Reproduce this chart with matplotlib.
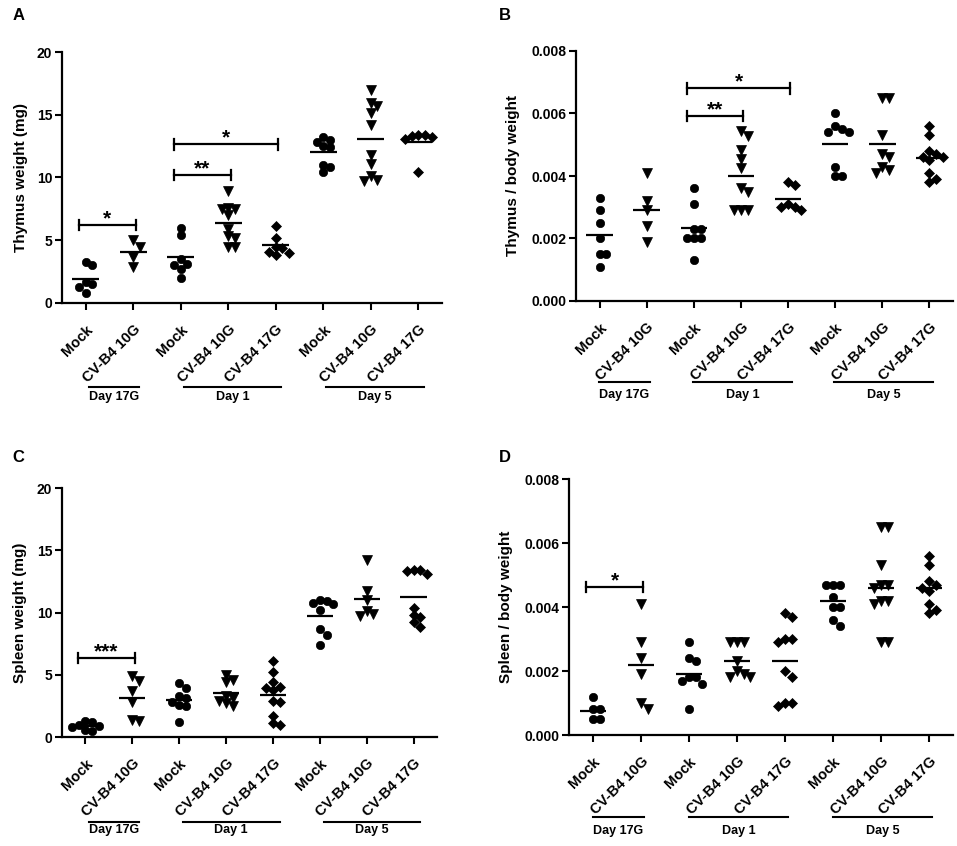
import numpy as np
import matplotlib
matplotlib.use('Agg')
import matplotlib.pyplot as plt
from matplotlib.transforms import blended_transform_factory

plt.rcParams['font.family'] = ['Liberation Sans', 'DejaVu Sans']
plt.rcParams['font.weight'] = 'bold'

# ---------------- data ----------------
categories = ['Mock', 'CV-B4 10G', 'Mock', 'CV-B4 10G', 'CV-B4 17G',
              'Mock', 'CV-B4 10G', 'CV-B4 17G']
group_labels = ['Day 17G', 'Day 1', 'Day 5']
group_spans = [(0, 1), (2, 4), (5, 7)]

thymus_weight = [
    [3.3, 3.0, 1.7, 1.55, 1.3, 0.8],
    [5.0, 4.5, 3.7, 2.9],
    [6.0, 5.4, 3.5, 3.1, 3.0, 2.7, 2.0],
    [8.9, 7.6, 7.5, 7.5, 7.0, 5.9, 5.3, 5.2, 4.5, 4.5],
    [6.1, 5.2, 4.5, 4.4, 4.1, 4.0, 3.8],
    [13.2, 13.0, 12.8, 12.5, 12.4, 11.0, 10.8, 10.4],
    [17.0, 15.9, 15.7, 15.1, 14.2, 11.8, 11.1, 10.1, 9.7, 9.8],
    [13.4, 13.3, 13.4, 13.2, 13.1, 10.4],
]
thymus_ratio = [
    [0.0033, 0.0029, 0.0025, 0.0020, 0.0015, 0.0015, 0.0011],
    [0.0041, 0.0032, 0.0029, 0.0024, 0.0019],
    [0.0036, 0.0031, 0.0023, 0.0023, 0.0020, 0.0020, 0.0020, 0.0013],
    [0.00545, 0.00528, 0.00483, 0.00453, 0.00425, 0.0036, 0.0035, 0.0029, 0.0029, 0.0029],
    [0.0038, 0.0037, 0.0031, 0.0030, 0.0030, 0.0029],
    [0.0060, 0.0056, 0.0055, 0.0054, 0.0054, 0.0043, 0.0040, 0.0040],
    [0.0065, 0.0065, 0.0053, 0.0047, 0.0046, 0.0043, 0.0041, 0.0042],
    [0.0056, 0.0053, 0.0048, 0.0047, 0.0046, 0.0046, 0.0045, 0.0041, 0.0039, 0.0038],
]
spleen_weight = [
    [1.3, 1.2, 1.0, 0.9, 0.8, 0.6, 0.5],
    [4.9, 4.5, 3.7, 2.8, 1.4, 1.3],
    [4.3, 3.9, 3.3, 3.1, 2.8, 2.6, 2.5, 1.2],
    [5.0, 4.6, 4.4, 3.3, 3.1, 2.9, 2.7, 2.5],
    [6.1, 5.2, 4.4, 4.0, 3.9, 3.8, 2.9, 2.8, 1.7, 1.1, 1.0],
    [11.0, 10.9, 10.8, 10.7, 10.2, 8.7, 8.2, 7.4],
    [14.2, 11.7, 11.0, 10.1, 9.7, 9.9],
    [13.4, 13.4, 13.3, 13.1, 10.4, 9.8, 9.6, 9.2, 8.8],
]
spleen_ratio = [
    [0.0012, 0.0008, 0.0008, 0.0005, 0.0005],
    [0.0041, 0.0029, 0.0024, 0.0019, 0.0010, 0.0008],
    [0.0029, 0.0024, 0.0023, 0.0018, 0.0018, 0.0017, 0.0016, 0.0008],
    [0.0029, 0.0029, 0.0029, 0.0023, 0.0020, 0.0019, 0.0018, 0.0018],
    [0.0038, 0.0037, 0.0030, 0.0030, 0.0029, 0.0020, 0.0018, 0.0010, 0.0009, 0.0010],
    [0.0047, 0.0047, 0.0047, 0.0043, 0.0040, 0.0040, 0.0036, 0.0034],
    [0.0065, 0.0065, 0.0053, 0.0047, 0.0047, 0.0046, 0.0042, 0.0041, 0.0042, 0.0029, 0.0029],
    [0.0056, 0.0053, 0.0048, 0.0047, 0.0046, 0.0045, 0.0041, 0.0039, 0.0038],
]

# significance: (group i, group j, bracket value, label)
sig_A = [(0, 1, 6.2, '*'), (2, 3, 10.2, '**'), (2, 4, 12.65, '*')]
sig_B = [(2, 3, 0.00592, '**'), (2, 4, 0.0068, '*')]
sig_C = [(0, 1, 6.36, '***')]
sig_D = [(0, 1, 0.00463, '*')]

ylabels = ['Thymus weight (mg)', 'Thymus / body weight',
           'Spleen weight (mg)', 'Spleen / body weight']
panel_letters = ['A', 'B', 'C', 'D']

# ---------------- style / layout ----------------
W, H = 957, 846
markers = ['o', 'v', 'o', 'v', 'D', 'o', 'v', 'D']
msizes = {'o': 6.0, 'v': 6.8, 'D': 4.8}

fig = plt.figure(figsize=(W / 100, H / 100), dpi=100)

# axes boxes in pixels: left, right, top, bottom
boxes = [(62, 442, 52, 303), (576, 953, 51, 301),
         (62, 437, 488, 737), (569, 953, 479, 735)]
letter_pos = [(13, 16), (499, 16), (12, 457), (499, 457)]
ylabel_x = [21.5, 513, 20, 506]
gline_y = [-0.336, -0.323, -0.341, -0.32]
gline_shift = [(0.06, 0.12), (-0.02, 0.08), (0.08, 0.14), (0.0, 0.06)]
datasets = [thymus_weight, thymus_ratio, spleen_weight, spleen_ratio]
sigs = [sig_A, sig_B, sig_C, sig_D]
ylims = [(0, 20), (0, 0.008), (0, 20), (0, 0.008)]
yticks = [[0, 5, 10, 15, 20], [0, 0.002, 0.004, 0.006, 0.008],
          [0, 5, 10, 15, 20], [0, 0.002, 0.004, 0.006, 0.008]]
ytickfmt = ['{:g}', '{:.3f}', '{:g}', '{:.3f}']
XLIM = (-0.5, 7.5)


def swarm_offsets(vals, xunit_px, ylim, h_px, dmin=6.5, step=6.7, kmax=2):
    vals = np.asarray(vals, dtype=float)
    ypx = (vals - ylim[0]) / (ylim[1] - ylim[0]) * h_px
    placed = []
    offs = np.zeros(len(vals))
    order = np.argsort(-vals, kind='stable')
    cands = [0]
    for k in range(1, kmax + 1):
        cands += [k, -k]
    for idx in order:
        best, bestd = 0.0, -1.0
        chosen = None
        for k in cands:
            x = k * step
            dm = min([np.hypot(x - px, ypx[idx] - py) for px, py in placed] or [1e9])
            if dm >= dmin:
                chosen = x
                break
            if dm > bestd + 0.5:
                best, bestd = x, dm
        if chosen is None:
            chosen = best
        placed.append((chosen, ypx[idx]))
        offs[idx] = chosen / xunit_px
    return offs


for p in range(4):
    l, r, t, b = boxes[p]
    ax = fig.add_axes([l / W, 1 - b / H, (r - l) / W, (b - t) / H])
    ax.set_xlim(*XLIM)
    ax.set_ylim(*ylims[p])
    w_px = r - l
    h_px = b - t
    xunit = w_px / (XLIM[1] - XLIM[0])

    data = datasets[p]
    for g, vals in enumerate(data):
        offs = swarm_offsets(vals, xunit, ylims[p], h_px)
        ax.plot(g + offs, vals, linestyle='none', marker=markers[g],
                ms=msizes[markers[g]], color='black', mec='black', mew=0.5,
                clip_on=False, zorder=3)
        m = float(np.mean(vals))
        ax.plot([g - 0.28, g + 0.28], [m, m], color='black', lw=1.6,
                solid_capstyle='butt', zorder=4, clip_on=False)

    # significance brackets
    cap = (ylims[p][1] - ylims[p][0]) * 5.3 / h_px
    for i, j, yv, lab in sigs[p]:
        x0, x1 = i - 0.15, j + 0.05
        ax.plot([x0, x1], [yv, yv], color='black', lw=1.6, clip_on=False)
        ax.plot([x0, x0], [yv - cap, yv + cap], color='black', lw=1.6, clip_on=False)
        ax.plot([x1, x1], [yv - cap, yv + cap], color='black', lw=1.6, clip_on=False)
        ax.annotate(lab, xy=((x0 + x1) / 2, yv), xytext=(0, 0.5),
                    textcoords='offset points', ha='center', va='baseline',
                    fontsize=15, fontweight='bold')

    # axes styling
    for s in ['top', 'right']:
        ax.spines[s].set_visible(False)
    for s in ['left', 'bottom']:
        ax.spines[s].set_linewidth(1.6)
    ax.set_yticks(yticks[p])
    ax.set_yticklabels([ytickfmt[p].format(v) for v in yticks[p]],
                       fontsize=10, fontweight='bold')
    ax.set_xticks(range(len(categories)))
    ax.set_xticklabels(categories, rotation=45, ha='right',
                       rotation_mode='anchor', fontsize=10.5, fontweight='bold')
    ax.tick_params(axis='both', length=5, width=1.5, color='black')
    ax.tick_params(axis='x', pad=9)
    ax.tick_params(axis='y', pad=2)

    # group lines and labels
    tr = blended_transform_factory(ax.transData, ax.transAxes)
    for (i, j), gl in zip(group_spans, group_labels):
        x0, x1 = i + gline_shift[p][0], j + gline_shift[p][1]
        ax.plot([x0, x1], [gline_y[p], gline_y[p]], color='black', lw=1.5,
                transform=tr, clip_on=False)
        ax.text((x0 + x1) / 2, -0.375, gl, transform=tr, ha='center',
                va='center', fontsize=9, fontweight='bold')

    fig.text(ylabel_x[p] / W, 1 - ((t + b) / 2) / H, ylabels[p], rotation=90,
             ha='center', va='center', fontsize=11, fontweight='bold')
    fig.text(letter_pos[p][0] / W, 1 - letter_pos[p][1] / H, panel_letters[p],
             ha='left', va='center', fontsize=12, fontweight='bold')

fig.savefig('out.png', dpi=100, facecolor='white')
